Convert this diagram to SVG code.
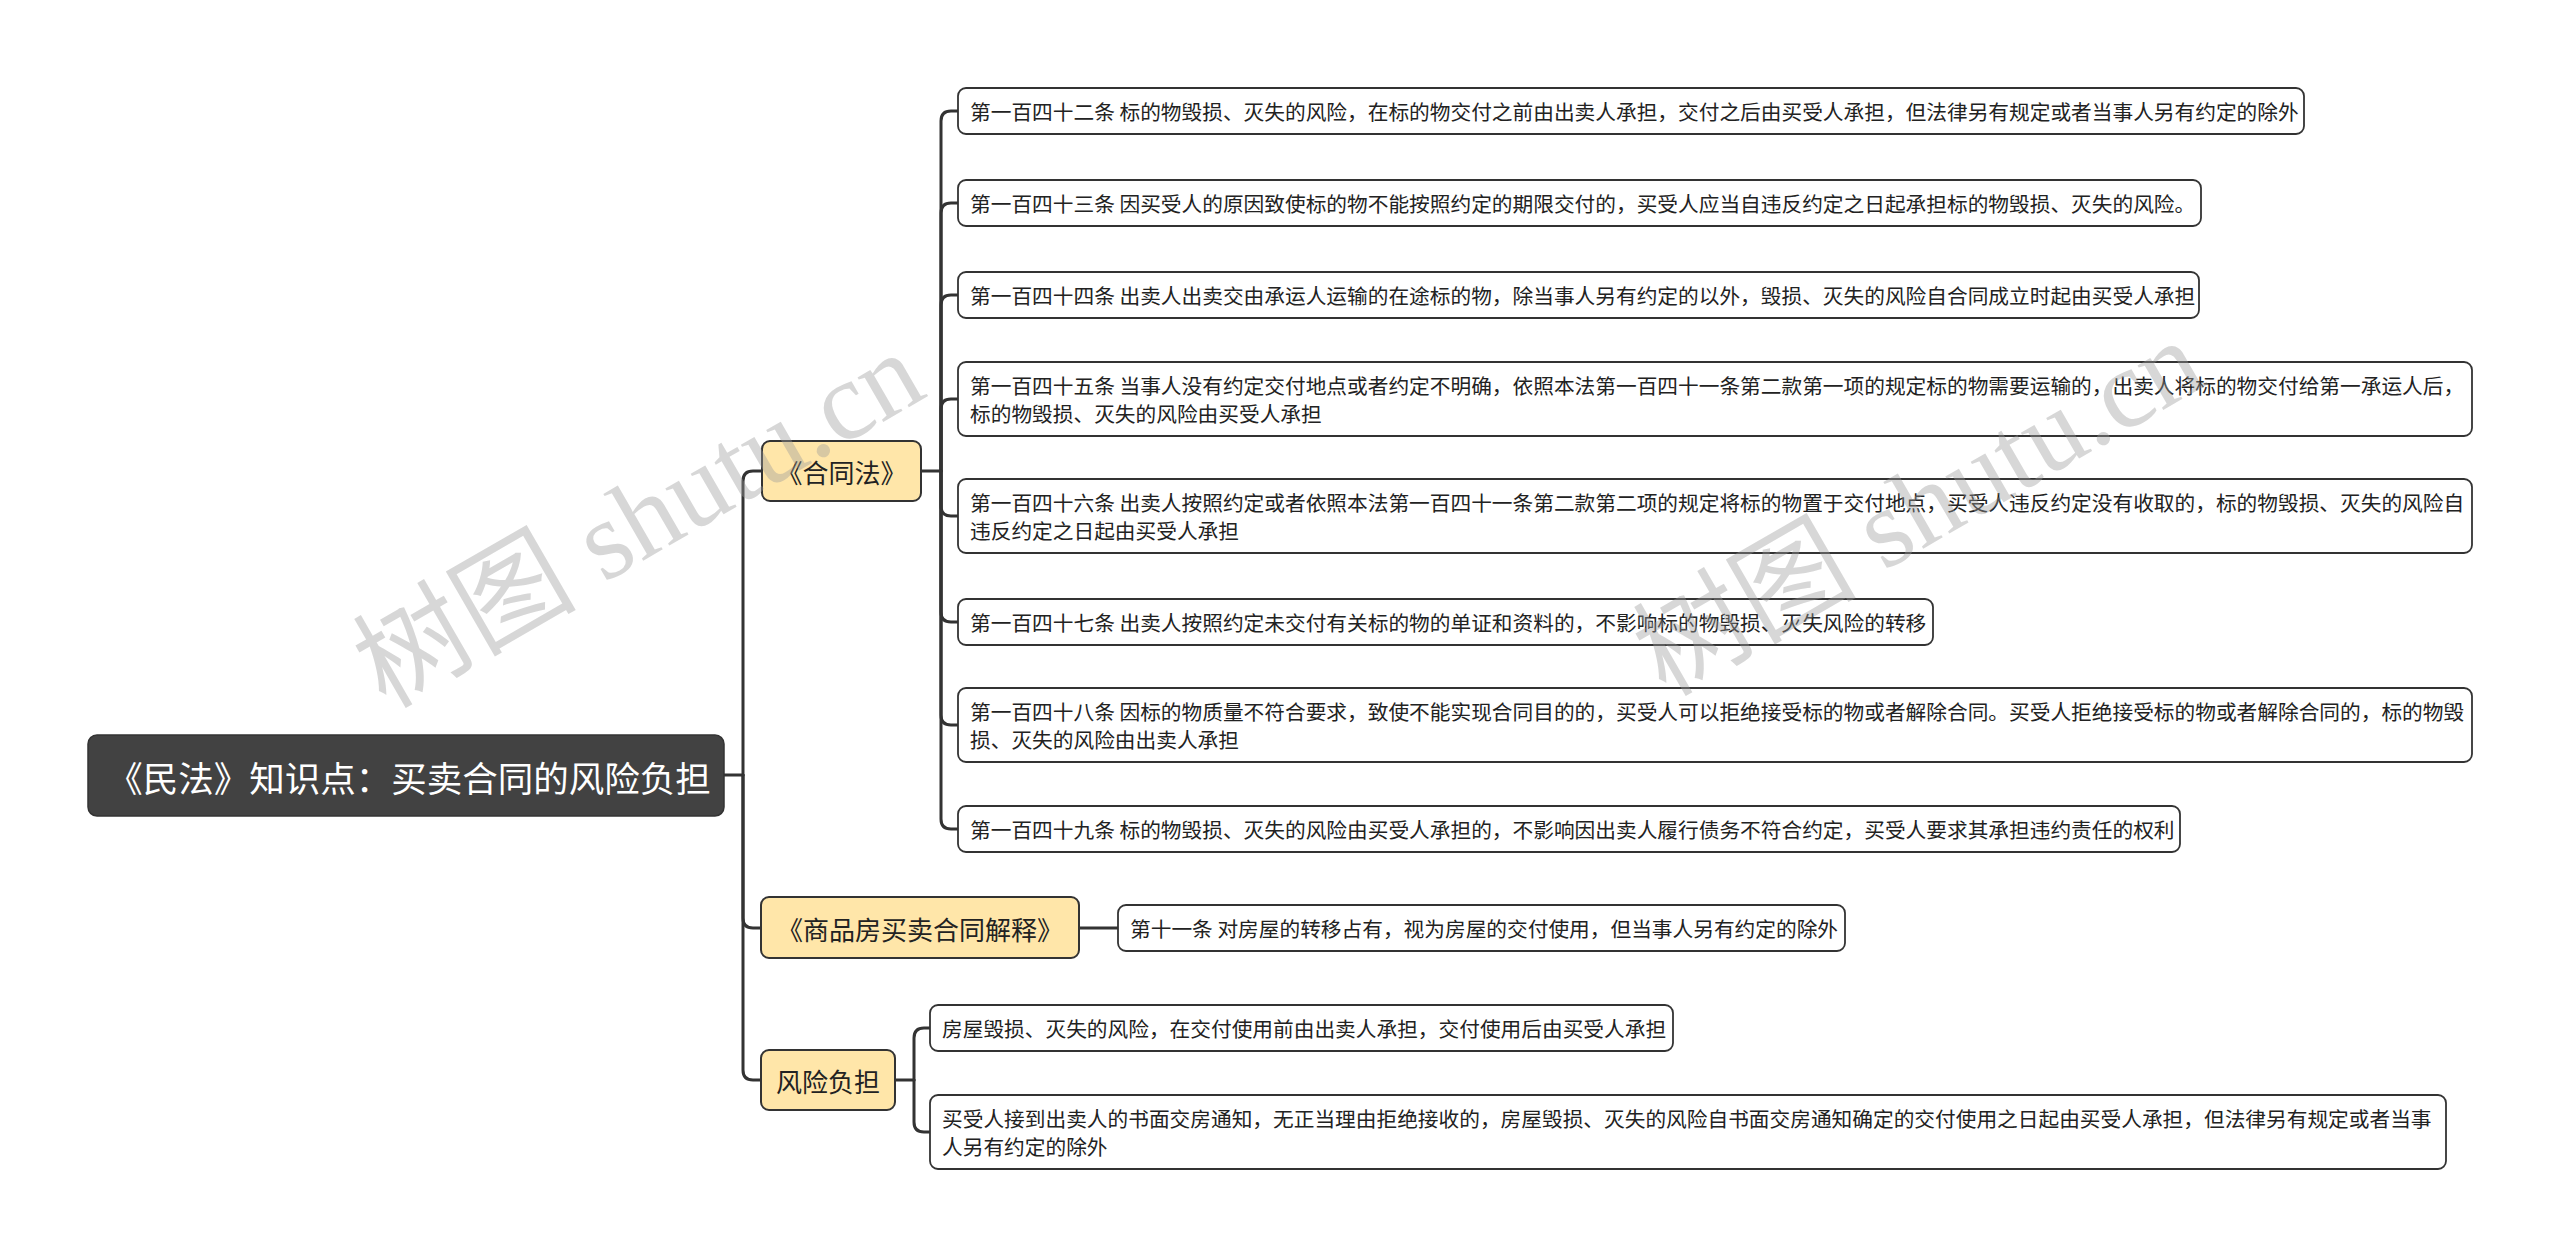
<svg xmlns="http://www.w3.org/2000/svg" width="2560" height="1257" viewBox="0 0 2560 1257">
<style>
.bg{fill:#ffffff}
.conn{fill:none;stroke:#333333;stroke-width:3;stroke-linecap:round}
.root{fill:#424242;stroke:#333333;stroke-width:1.5}
.roott{fill:#ffffff;font-family:"Noto Sans CJK SC","Noto Sans",sans-serif;font-size:35.5px}
.br{fill:#ffe6a9;stroke:#333333;stroke-width:2}
.brt{fill:#222222;font-family:"Noto Sans CJK SC","Noto Sans",sans-serif;font-size:26px}
.leaf{fill:#ffffff;stroke:#333333;stroke-width:1.8}
.lt{fill:#222222;font-family:"Noto Sans CJK SC","Noto Sans",sans-serif;font-size:20.7px}
.wm{fill:#9a9a9a;fill-opacity:0.4;font-family:"Liberation Serif","Noto Sans CJK SC",serif;font-size:112px}
</style>
<rect class="bg" x="0" y="0" width="2560" height="1257"/>
<g id="connectors">
<path class="conn" d="M724,775 H743"/>
<path class="conn" d="M743,775 V481 Q743,471 753,471 H762"/>
<path class="conn" d="M743,775 V918 Q743,928 753,928 H761"/>
<path class="conn" d="M743,775 V1070 Q743,1080 753,1080 H761"/>
<path class="conn" d="M921,471 H941"/>
<path class="conn" d="M941,471 V121 Q941,111 951,111 H958"/>
<path class="conn" d="M941,471 V213 Q941,203 951,203 H958"/>
<path class="conn" d="M941,471 V305 Q941,295 951,295 H958"/>
<path class="conn" d="M941,471 V409 Q941,399 951,399 H958"/>
<path class="conn" d="M941,471 V506 Q941,516 951,516 H958"/>
<path class="conn" d="M941,471 V612 Q941,622 951,622 H958"/>
<path class="conn" d="M941,471 V715 Q941,725 951,725 H958"/>
<path class="conn" d="M941,471 V819 Q941,829 951,829 H958"/>
<path class="conn" d="M1079,928 H1118"/>
<path class="conn" d="M895,1080 H914"/>
<path class="conn" d="M914,1080 V1038 Q914,1028 924,1028 H930"/>
<path class="conn" d="M914,1080 V1122 Q914,1132 924,1132 H930"/>
</g>
<g id="root">
<rect class="root" x="88" y="735" width="636" height="81" rx="9"/>
<text class="roott" x="409" y="776" text-anchor="middle" dominant-baseline="central">《民法》知识点：买卖合同的风险负担</text>
</g>
<g id="b1">
<rect class="br" x="762" y="441" width="159" height="60" rx="8"/>
<text class="brt" x="841.5" y="471" text-anchor="middle" dominant-baseline="central">《合同法》</text>
</g>
<g id="b2">
<rect class="br" x="761" y="897" width="318" height="61" rx="8"/>
<text class="brt" x="920" y="928" text-anchor="middle" dominant-baseline="central">《商品房买卖合同解释》</text>
</g>
<g id="b3">
<rect class="br" x="761" y="1050" width="134" height="60" rx="8"/>
<text class="brt" x="828" y="1080" text-anchor="middle" dominant-baseline="central">风险负担</text>
</g>
<g id="l1">
<rect class="leaf" x="958" y="88" width="1346" height="46" rx="8"/>
<text class="lt" x="970" y="111" dominant-baseline="central">第一百四十二条 标的物毁损、灭失的风险，在标的物交付之前由出卖人承担，交付之后由买受人承担，但法律另有规定或者当事人另有约定的除外</text>
</g>
<g id="l2">
<rect class="leaf" x="958" y="180" width="1243" height="46" rx="8"/>
<text class="lt" x="970" y="203" dominant-baseline="central">第一百四十三条 因买受人的原因致使标的物不能按照约定的期限交付的，买受人应当自违反约定之日起承担标的物毁损、灭失的风险。</text>
</g>
<g id="l3">
<rect class="leaf" x="958" y="272" width="1241" height="46" rx="8"/>
<text class="lt" x="970" y="295" dominant-baseline="central">第一百四十四条 出卖人出卖交由承运人运输的在途标的物，除当事人另有约定的以外，毁损、灭失的风险自合同成立时起由买受人承担</text>
</g>
<g id="l4">
<rect class="leaf" x="958" y="362" width="1514" height="74" rx="8"/>
<text class="lt" x="970" y="385" dominant-baseline="central">第一百四十五条 当事人没有约定交付地点或者约定不明确，依照本法第一百四十一条第二款第一项的规定标的物需要运输的，出卖人将标的物交付给第一承运人后，</text>
<text class="lt" x="970" y="413" dominant-baseline="central">标的物毁损、灭失的风险由买受人承担</text>
</g>
<g id="l5">
<rect class="leaf" x="958" y="479" width="1514" height="74" rx="8"/>
<text class="lt" x="970" y="502" dominant-baseline="central">第一百四十六条 出卖人按照约定或者依照本法第一百四十一条第二款第二项的规定将标的物置于交付地点，买受人违反约定没有收取的，标的物毁损、灭失的风险自</text>
<text class="lt" x="970" y="530" dominant-baseline="central">违反约定之日起由买受人承担</text>
</g>
<g id="l6">
<rect class="leaf" x="958" y="599" width="975" height="46" rx="8"/>
<text class="lt" x="970" y="622" dominant-baseline="central">第一百四十七条 出卖人按照约定未交付有关标的物的单证和资料的，不影响标的物毁损、灭失风险的转移</text>
</g>
<g id="l7">
<rect class="leaf" x="958" y="688" width="1514" height="74" rx="8"/>
<text class="lt" x="970" y="711" dominant-baseline="central">第一百四十八条 因标的物质量不符合要求，致使不能实现合同目的的，买受人可以拒绝接受标的物或者解除合同。买受人拒绝接受标的物或者解除合同的，标的物毁</text>
<text class="lt" x="970" y="739" dominant-baseline="central">损、灭失的风险由出卖人承担</text>
</g>
<g id="l8">
<rect class="leaf" x="958" y="806" width="1222" height="46" rx="8"/>
<text class="lt" x="970" y="829" dominant-baseline="central">第一百四十九条 标的物毁损、灭失的风险由买受人承担的，不影响因出卖人履行债务不符合约定，买受人要求其承担违约责任的权利</text>
</g>
<g id="l9">
<rect class="leaf" x="1118" y="905" width="727" height="46" rx="8"/>
<text class="lt" x="1130" y="928" dominant-baseline="central">第十一条 对房屋的转移占有，视为房屋的交付使用，但当事人另有约定的除外</text>
</g>
<g id="l10">
<rect class="leaf" x="930" y="1005" width="743" height="46" rx="8"/>
<text class="lt" x="942" y="1028" dominant-baseline="central">房屋毁损、灭失的风险，在交付使用前由出卖人承担，交付使用后由买受人承担</text>
</g>
<g id="l11">
<rect class="leaf" x="930" y="1095" width="1516" height="74" rx="8"/>
<text class="lt" x="942" y="1118" dominant-baseline="central">买受人接到出卖人的书面交房通知，无正当理由拒绝接收的，房屋毁损、灭失的风险自书面交房通知确定的交付使用之日起由买受人承担，但法律另有规定或者当事</text>
<text class="lt" x="942" y="1146" dominant-baseline="central">人另有约定的除外</text>
</g>
<g id="watermark">
<text class="wm" x="640" y="557" text-anchor="middle" transform="rotate(-30 640 522)">树图 shutu.cn</text>
<text class="wm" x="1920" y="545" text-anchor="middle" transform="rotate(-30 1920 510)">树图 shutu.cn</text>
</g>
</svg>
